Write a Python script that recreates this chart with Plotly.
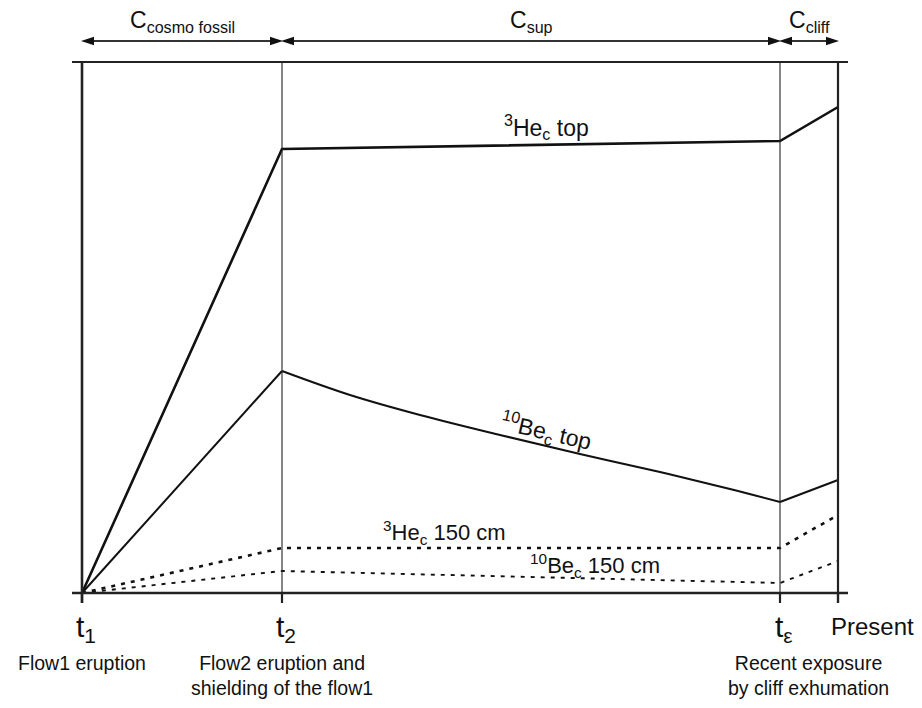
import plotly.graph_objects as go

# ---- data (arbitrary time units, arbitrary concentration units) ----
event_names = ["t1", "t2", "te", "present"]
event_times = [0, 200, 698, 756]
tick_labels = ["t<sub>1</sub>", "t<sub>2</sub>", "t<sub>ε</sub>", "Present"]
event_notes = ["Flow1 eruption", "Flow2 eruption and<br>shielding of the flow1", "", "Recent exposure<br>by cliff exhumation"]

he3_top_t = [0, 200, 698, 756]
he3_top_c = [0, 444, 452, 486]

# 10Be top: build-up, decay under flow2 shielding, re-exposure
be10_top_t = [0, 200, 268, 338, 418, 498, 578, 648, 698, 756]
be10_top_c = [0, 222, 198, 178, 158, 139, 121, 104, 91, 113]

he3_150_t = [0, 200, 698, 756]
he3_150_c = [0, 45, 45, 78]

be10_150_t = [0, 200, 698, 756]
be10_150_c = [0, 22, 10, 32]

phases = ["C<sub>cosmo fossil</sub>", "C<sub>sup</sub>", "C<sub>cliff</sub>"]
phase_bounds = [(0, 200), (200, 698), (698, 756)]

C_MAX = 531  # top frame
FONT = "Liberation Sans, Arial, sans-serif"

fig = go.Figure()

def add_line(t, c, width, dash="solid", color="#111", shape="linear"):
    fig.add_trace(go.Scatter(x=t, y=c, mode="lines",
                             line=dict(color=color, width=width, dash=dash, shape=shape),
                             hoverinfo="skip", showlegend=False))

add_line(he3_top_t, he3_top_c, 2.6)
add_line(be10_top_t[:2], be10_top_c[:2], 2.0)
add_line(be10_top_t[1:-1], be10_top_c[1:-1], 2.0, shape="spline")
add_line(be10_top_t[-2:], be10_top_c[-2:], 2.0)
add_line(he3_150_t, he3_150_c, 2.6, dash="4px,6px")
add_line(be10_150_t, be10_150_c, 1.9, dash="4px,6px")

shapes = []
# frame lines
shapes.append(dict(type="line", x0=-10, x1=766, y0=C_MAX, y1=C_MAX, line=dict(color="#222", width=2.2)))
shapes.append(dict(type="line", x0=-10, x1=766, y0=0, y1=0, line=dict(color="#222", width=2.6)))
vwidths = [2.6, 1.1, 1.1, 2.2]
for t, w in zip(event_times, vwidths):
    shapes.append(dict(type="line", x0=t, x1=t, y0=-10, y1=C_MAX, line=dict(color="#222", width=w)))
    shapes.append(dict(type="line", x0=t, x1=t, y0=-10, y1=0, line=dict(color="#222", width=2.2)))

# phase arrows
ya = 552
ah_len, ah_half = 13, 4.2
for (a, b) in phase_bounds:
    shapes.append(dict(type="line", x0=a + 4, x1=b - 4, y0=ya, y1=ya, line=dict(color="#333", width=1.8)))
    shapes.append(dict(type="path", path=f"M {a-1} {ya} L {a-1+ah_len} {ya+ah_half} L {a-1+ah_len} {ya-ah_half} Z",
                       fillcolor="#111", line=dict(width=0)))
    shapes.append(dict(type="path", path=f"M {b+1} {ya} L {b+1-ah_len} {ya+ah_half} L {b+1-ah_len} {ya-ah_half} Z",
                       fillcolor="#111", line=dict(width=0)))

annotations = []
for (a, b), txt in zip(phase_bounds, phases):
    annotations.append(dict(x=(a + b) / 2, y=ya + 3, text=txt, showarrow=False, yanchor="bottom",
                            font=dict(size=23, color="#111", family=FONT)))

for t, lab in zip(event_times, tick_labels):
    if lab == "Present":
        annotations.append(dict(x=t - 9, y=-18, text=lab, showarrow=False, xanchor="left", yanchor="top",
                                font=dict(size=24, color="#111", family=FONT)))
    else:
        annotations.append(dict(x=t + 4, y=-15, text=lab, showarrow=False, yanchor="top",
                                font=dict(size=30, color="#111", family=FONT)))

note_x = [0, 200, 698, 726]
for t, note in zip(note_x, event_notes):
    if note:
        annotations.append(dict(x=t, y=-57, text=note, showarrow=False, yanchor="top",
                                font=dict(size=19.5, color="#111", family=FONT)))

# curve labels
annotations.append(dict(x=464, y=466, text="<sup>3</sup>He<sub>c</sub> top", showarrow=False,
                        font=dict(size=23, color="#111", family=FONT)))
annotations.append(dict(x=464, y=162, text="<sup>10</sup>Be<sub>c</sub> top", showarrow=False, textangle=13,
                        font=dict(size=23, color="#111", family=FONT)))
annotations.append(dict(x=362, y=61, text="<sup>3</sup>He<sub>c</sub> 150 cm", showarrow=False,
                        font=dict(size=22, color="#111", family=FONT)))
annotations.append(dict(x=513, y=28, text="<sup>10</sup>Be<sub>c</sub> 150 cm", showarrow=False,
                        font=dict(size=22, color="#111", family=FONT)))

# page body has an 8px margin: shift ranges so the frame lands where the reference has it
fig.update_layout(
    width=922, height=708,
    margin=dict(l=0, r=0, t=0, b=0),
    paper_bgcolor="white", plot_bgcolor="white",
    xaxis=dict(range=[-74, 848], visible=False, fixedrange=True),
    yaxis=dict(range=[-123, 585], visible=False, fixedrange=True),
    shapes=shapes, annotations=annotations,
    font=dict(family=FONT),
)

fig.write_html("out.html")
